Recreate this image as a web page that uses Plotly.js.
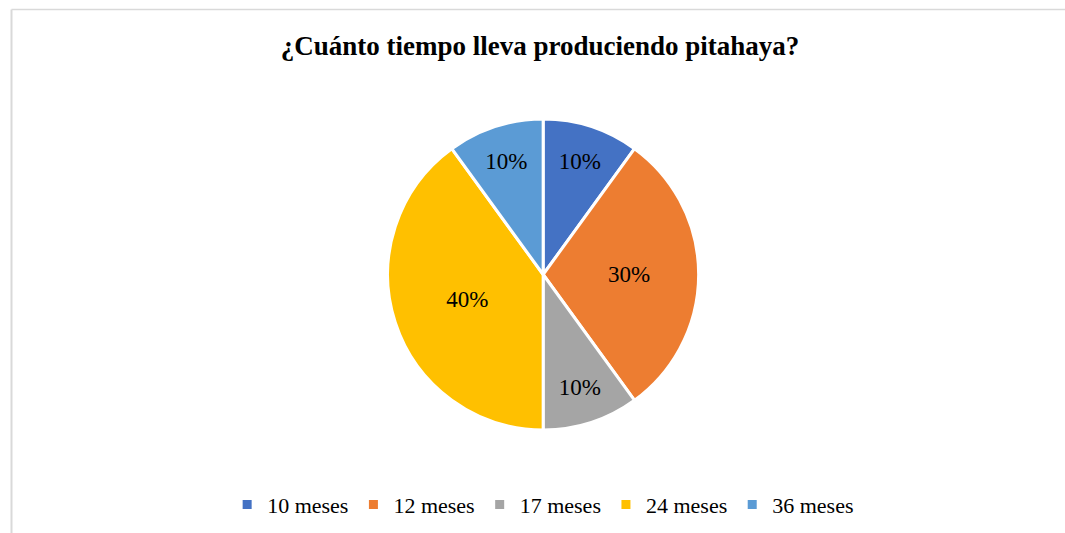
<!DOCTYPE html>
<html>
<head>
<meta charset="utf-8">
<script src="https://cdn.plot.ly/plotly-3.0.1.min.js"></script>
<style>html,body{margin:0;padding:0;background:#fff;}#chart{width:1065px;height:533px;}</style>
</head>
<body>
<div id="chart"></div>
<script>
const categories = ["10 meses", "12 meses", "17 meses", "24 meses", "36 meses"];
const values = [10, 30, 10, 40, 10];
const colors = ["#4472C4", "#ED7D31", "#A5A5A5", "#FFC000", "#5B9BD5"];
const chartTitle = "¿Cuánto tiempo lleva produciendo pitahaya?";

const font = "'Liberation Serif', 'Times New Roman', serif";

const data = [{
  type: "pie",
  labels: categories,
  values: values,
  sort: false,
  direction: "clockwise",
  rotation: 0,
  marker: { colors: colors, line: { color: "#ffffff", width: 3 } },
  textinfo: "percent",
  texttemplate: "%{percent:.0%}",
  textposition: "inside",
  insidetextorientation: "horizontal",
  textfont: { family: font, size: 23, color: "#000000" },
  hoverinfo: "label+percent",
  domain: { x: [0.364, 0.656], y: [0.193, 0.777] }
}];

const layout = {
  width: 1065,
  height: 533,
  margin: { l: 0, r: 0, t: 0, b: 0 },
  paper_bgcolor: "#ffffff",
  title: {
    text: "<b>" + chartTitle + "</b>",
    font: { family: font, size: 27, color: "#000000" },
    x: 0.507, xanchor: "center",
    y: 0.915, yanchor: "middle"
  },
  showlegend: true,
  legend: {
    orientation: "h",
    x: 0.51, xanchor: "center",
    y: 0.053, yanchor: "middle",
    font: { family: font, size: 22, color: "#000000" },
    itemwidth: 30,
    tracegroupgap: 0,
    traceorder: "normal"
  },
  shapes: [
    { type: "line", xref: "paper", yref: "paper", x0: 0.0108, x1: 0.0108, y0: 0, y1: 0.982, line: { color: "#d9d9d9", width: 2 } },
    { type: "line", xref: "paper", yref: "paper", x0: 0.0108, x1: 1, y0: 0.982, y1: 0.982, line: { color: "#d9d9d9", width: 1.5 } }
  ]
};

Plotly.newPlot("chart", data, layout, { displayModeBar: false, staticPlot: true });
</script>
</body>
</html>
